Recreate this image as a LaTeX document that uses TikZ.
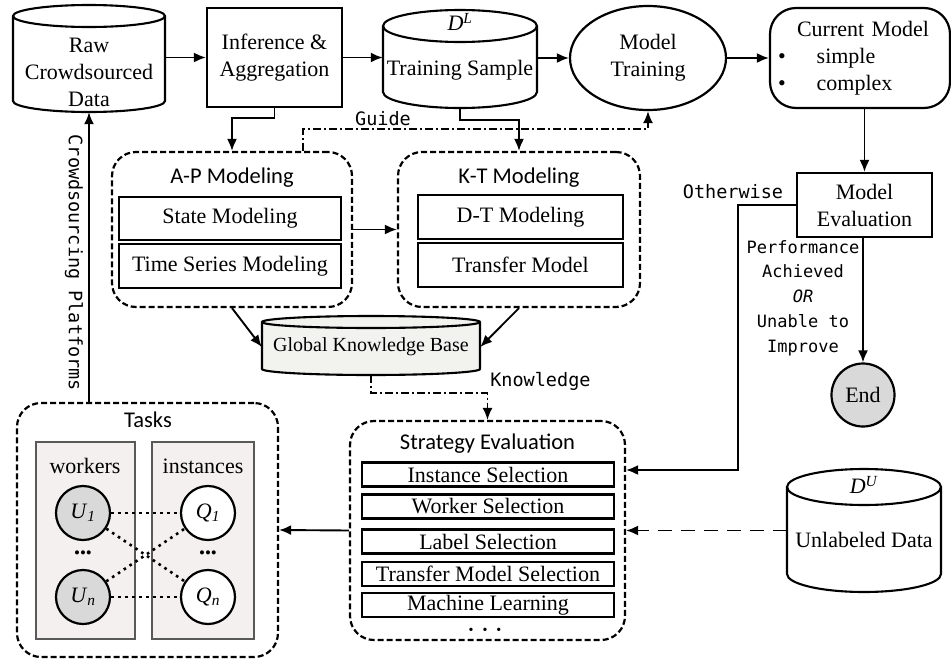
\documentclass[tikz,border=0pt]{standalone}
\usepackage{fontspec}
\setmainfont{Liberation Serif}
\newfontfamily\headfont{Carlito}
\newfontfamily\tagfont{DejaVu Sans Mono}
\usepackage{tikz}
\usetikzlibrary{positioning,shapes.geometric,arrows.meta}

\definecolor{kbfill}{RGB}{242,243,238}
\definecolor{panelfill}{RGB}{243,240,239}
\definecolor{nodegray}{RGB}{217,217,217}

\tikzset{
  proc/.style={draw, line width=2.2pt, align=center, inner sep=0pt},
  item/.style={draw, line width=2.2pt, inner sep=0pt},
  grp/.style={draw, line width=2.2pt, dash pattern=on 6pt off 3pt, rounded corners=24pt, inner sep=0pt},
  panel/.style={draw=black!65, line width=1.2pt, fill=panelfill, inner sep=0pt},
  head/.style={font=\headfont\fontsize{22.5}{26}\selectfont},
  tag/.style={font=\tagfont\fontsize{18.5}{24}\selectfont, inner sep=2pt},
  conn/.style={->, >={Latex[length=12pt,width=10pt]}, line width=1.9pt},
  guide/.style={->, >={Latex[length=12pt,width=10pt]}, line width=1.6pt, dash pattern=on 8pt off 3pt on 2pt off 3pt},
  peer/.style={circle, draw, line width=2.2pt, minimum size=54pt, inner sep=0pt},
  link/.style={line width=2.6pt, dash pattern=on 2.6pt off 4.4pt},
  can/.style={line width=2.1pt},
}

\begin{document}
\begin{tikzpicture}[x=1pt, y=-1pt, font=\fontsize{22}{27}\selectfont]
\useasboundingbox (0,0) rectangle (951,662);

% the data stores
\draw[can] (13,16) -- (13,101) arc[start angle=180,end angle=360,x radius=76pt,y radius=11pt] -- (165,16) arc[start angle=0,end angle=180,x radius=76pt,y radius=11pt] -- cycle;
\draw[can] (13,16) arc[start angle=180,end angle=360,x radius=76pt,y radius=11pt];
\draw[can] (383,26) -- (383,92) arc[start angle=180,end angle=360,x radius=77pt,y radius=16pt] -- (537,26) arc[start angle=0,end angle=180,x radius=77pt,y radius=16pt] -- cycle;
\draw[can] (383,26) arc[start angle=180,end angle=360,x radius=77pt,y radius=16pt];
\draw[can, fill=kbfill] (262,322) -- (262,369) arc[start angle=180,end angle=360,x radius=109pt,y radius=6pt] -- (480,322) arc[start angle=0,end angle=180,x radius=109pt,y radius=6pt] -- cycle;
\draw[can] (262,322) arc[start angle=180,end angle=360,x radius=109pt,y radius=6pt];
\draw[can] (787,487) -- (787,574) arc[start angle=180,end angle=360,x radius=77pt,y radius=18pt] -- (941,487) arc[start angle=0,end angle=180,x radius=77pt,y radius=18pt] -- cycle;
\draw[can] (787,487) arc[start angle=180,end angle=360,x radius=77pt,y radius=18pt];

\node[align=center, minimum width=152pt, minimum height=80pt, inner sep=0pt] (raw) at (89,72) {Raw\\Crowdsourced\\Data};
\node[proc, minimum width=135pt, minimum height=99pt] (infer) at (274.5,57.5) {Inference \&\\Aggregation};
\node (dl) at (460,22) {\textit{D}\textsuperscript{\textit{L}}};
\node[minimum width=154pt, minimum height=76pt, inner sep=0pt] (train) at (460,70) {Training Sample};
\node[ellipse, draw, line width=2.2pt, minimum width=156pt, minimum height=104pt, inner sep=0pt, align=center] (model) at (648,58) {Model\\Training};
\node[proc, rounded corners=26pt, minimum width=180pt, minimum height=100pt, text width=164pt, align=left] (current) at (860,58)
  {\hspace*{19pt}Current Model\\\textbullet\hspace{31pt}simple\\\textbullet\hspace{31pt}complex};
\node[proc, minimum width=135pt, minimum height=64pt] (eval) at (864.5,205) {Model\\Evaluation};
\node[circle, draw, line width=2.2pt, fill=nodegray, minimum size=63pt, inner sep=0pt] (stop) at (863,395) {End};
\node[tag, font=\tagfont\fontsize{17}{24.7}\selectfont, align=center] (cond) at (803,298) {Performance\\Achieved\\\textit{OR}\\Unable to\\Improve};
\node[tag] (other) at (733,192) {Otherwise};
\coordinate (turn) at (738,470);

% A-P and K-T modeling
\node[grp, minimum width=240pt, minimum height=155pt] (ap) at (232,229.5) {};
\node[head] (aphead) at (232,178) {A-P Modeling};
\node[item, minimum width=222pt, minimum height=43pt] (state) at (230,218.5) {State Modeling};
\node[item, minimum width=222pt, minimum height=44pt] (tsm) at (230,266) {Time Series Modeling};
\node[grp, minimum width=242pt, minimum height=155pt] (kt) at (519,229.5) {};
\node[head] (kthead) at (519,178) {K-T Modeling};
\node[item, minimum width=205pt, minimum height=44pt] (dtm) at (520.5,217) {D-T Modeling};
\node[item, minimum width=205pt, minimum height=44pt] (trm) at (520.5,265) {Transfer Model};
\node[font=\fontsize{20}{24}\selectfont, minimum width=218pt, minimum height=56pt, inner sep=0pt] (gkb) at (371,347) {Global Knowledge Base};

% strategy evaluation
\node[grp, minimum width=275pt, minimum height=219pt] (strat) at (487.5,530.5) {};
\node[head] (strathead) at (487.5,444) {Strategy Evaluation};
\node[item, minimum width=252pt, minimum height=24pt] (inst) at (488,474.5) {Instance Selection};
\node[item, minimum width=252pt, minimum height=24pt] (work) at (488,506.5) {Worker Selection};
\node[item, minimum width=252pt, minimum height=24pt] (labl) at (488,541.5) {Label Selection};
\node[item, minimum width=252pt, minimum height=24pt] (tms) at (488,574) {Transfer Model Selection};
\node[item, minimum width=252pt, minimum height=24pt] (ml) at (488,605) {Machine Learning};
\node (more) at (485,631) {\fontsize{14}{14}\selectfont\textbullet\hspace{9pt}\textbullet\hspace{9pt}\textbullet};

\node (du) at (864,485) {\textit{D}\textsuperscript{\textit{U}}};
\node[minimum width=154pt, minimum height=70pt, inner sep=0pt] (unl) at (864,540) {Unlabeled Data};

% tasks
\node[grp, minimum width=261pt, minimum height=254pt] (tasks) at (147.5,530) {};
\node[head] (taskhead) at (148,420) {Tasks};
\node[panel, minimum width=99pt, minimum height=197pt] (wpanel) at (85.5,540.5) {};
\node[panel, minimum width=102pt, minimum height=197pt] (ipanel) at (203,540.5) {};
\node (wlabel) at (85,466) {workers};
\node (ilabel) at (203,466) {instances};
\node[peer, fill=nodegray] (u1) at (83,513) {\textit{U}\textsubscript{\textit{1}}};
\node[peer, fill=nodegray] (un) at (83,597) {\textit{U}\textsubscript{\textit{n}}};
\node[peer, fill=white] (q1) at (208,513) {\textit{Q}\textsubscript{\textit{1}}};
\node[peer, fill=white] (qn) at (208,597) {\textit{Q}\textsubscript{\textit{n}}};
\node (wdots) at (83,555) {\fontsize{17}{17}\selectfont\textbullet\textbullet\textbullet};
\node (idots) at (208,555) {\fontsize{17}{17}\selectfont\textbullet\textbullet\textbullet};
\draw[link] (u1) -- (q1);
\draw[link] (un) -- (qn);
\draw[link] (u1) -- (qn);
\draw[link] (un) -- (q1);

% connectors
\draw[conn] (raw.east |- infer) -- (infer.west);
\draw[conn] (infer.east) -- (infer.east -| train.west);
\draw[conn] (train.east |- model) -- (model.west);
\draw[conn] (model.east) -- (current.west);
\draw[conn] (current.south -| eval.north) -- (eval.north);
\draw[conn] (eval.south -| stop.north) -- (stop.north);
\draw[conn] (eval.west) -| (turn) -- (turn -| strat.east);
\draw[conn] (infer.south) -- ++(0,10) -| (ap.north);
\draw[conn] (train.south) -- ++(0,12) -| (kt.north);
\draw[guide] ([xshift=71pt]ap.north) -- ++(0,-22) -| node[tag, above, pos=0.116] (guidetag) {Guide} (model.south);
\draw[conn] (ap.east) -- (kt.west);
\draw[conn] (ap.south) -- (gkb.west);
\draw[conn] (kt.south) -- (gkb.east);
\draw[guide] (gkb.south) -- ++(0,18) -| node[tag, pos=0.5, anchor=south west] (knowtag) {Knowledge} (strat.north);
\draw[conn, dash pattern=on 14pt off 9pt] (strat.east -| unl.west) -- (strat.east);
\draw[conn] (strat.west) -- (tasks.east);
\draw[conn] (raw.south |- tasks.north) -- node[tag, rotate=-90, anchor=north, inner sep=5pt, pos=0.48] (platform) {Crowdsourcing Platforms} (raw.south);
\end{tikzpicture}
\end{document}
